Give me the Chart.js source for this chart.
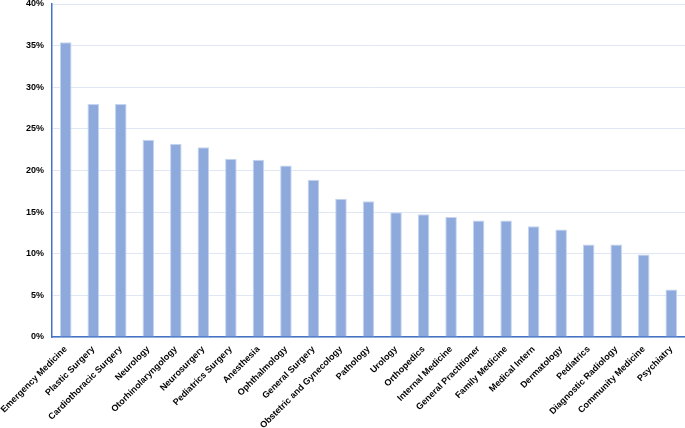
<!DOCTYPE html>
<html>
<head>
<meta charset="utf-8">
<script src="https://cdn.jsdelivr.net/npm/chart.js@4"></script>
<style>
  html, body { margin: 0; padding: 0; background: #ffffff; }
  #wrap { width: 685px; height: 428px; position: relative; }
</style>
</head>
<body>
<div id="wrap"><canvas id="specialtyChart"></canvas></div>
<script>
// --- data ---
const specialties = [
  'Emergency Medicine', 'Plastic Surgery', 'Cardiothoracic Surgery', 'Neurology',
  'Otorhinolaryngology', 'Neurosurgery', 'Pediatrics Surgery', 'Anesthesia',
  'Ophthalmology', 'General Surgery', 'Obstetric and Gynecology', 'Pathology',
  'Urology', 'Orthopedics', 'Internal Medicine', 'General Practitioner',
  'Family Medicine', 'Medical Intern', 'Dermatology', 'Pediatrics',
  'Diagnostic Radiology', 'Community Medicine', 'Psychiatry'
];
const percentages = [
  35.4, 28.0, 28.0, 23.7, 23.2, 22.8, 21.4, 21.3, 20.6, 18.9, 16.6, 16.3,
  15.0, 14.75, 14.4, 14.0, 14.0, 13.3, 12.9, 11.1, 11.1, 9.9, 5.7
];
const yTicks = [0, 5, 10, 15, 20, 25, 30, 35, 40];

const labelFont = { family: '"Liberation Sans", Arial, sans-serif', size: 9, weight: 'bold' };

const ctx = document.getElementById('specialtyChart').getContext('2d');
new Chart(ctx, {
  type: 'bar',
  data: {
    labels: specialties,
    datasets: [{
      data: percentages,
      backgroundColor: '#8eaadc',
      borderColor: '#c6d5ef',
      borderWidth: 1,
      barPercentage: 0.42,
      categoryPercentage: 1
    }]
  },
  options: {
    responsive: true,
    maintainAspectRatio: false,
    animation: false,
    layout: { padding: { top: 4, right: 0, left: 0, bottom: 0 } },
    plugins: { legend: { display: false }, tooltip: { enabled: false } },
    scales: {
      x: {
        grid: { display: false, drawTicks: false },
        border: { color: '#4472c4', width: 1.5 },
        ticks: {
          color: '#000000',
          font: labelFont,
          autoSkip: false,
          minRotation: 45,
          maxRotation: 45,
          padding: 7
        },
        afterFit: (axis) => {
          axis.height = 91;
          // long first label may hang past the y axis, as in the original
          axis.paddingLeft = 0;
          axis.paddingRight = 0;
        }
      },
      y: {
        min: yTicks[0],
        max: yTicks[yTicks.length - 1],
        grid: { color: '#dfe7f5', drawTicks: false },
        border: { color: '#4472c4', width: 1.5 },
        ticks: {
          stepSize: 5,
          color: '#000000',
          font: labelFont,
          padding: 8,
          callback: (v) => v + '%'
        },
        afterFit: (axis) => {
          axis.width = 52;
          axis.paddingTop = 0;
          axis.paddingBottom = 0;
        }
      }
    }
  }
});
</script>
</body>
</html>
